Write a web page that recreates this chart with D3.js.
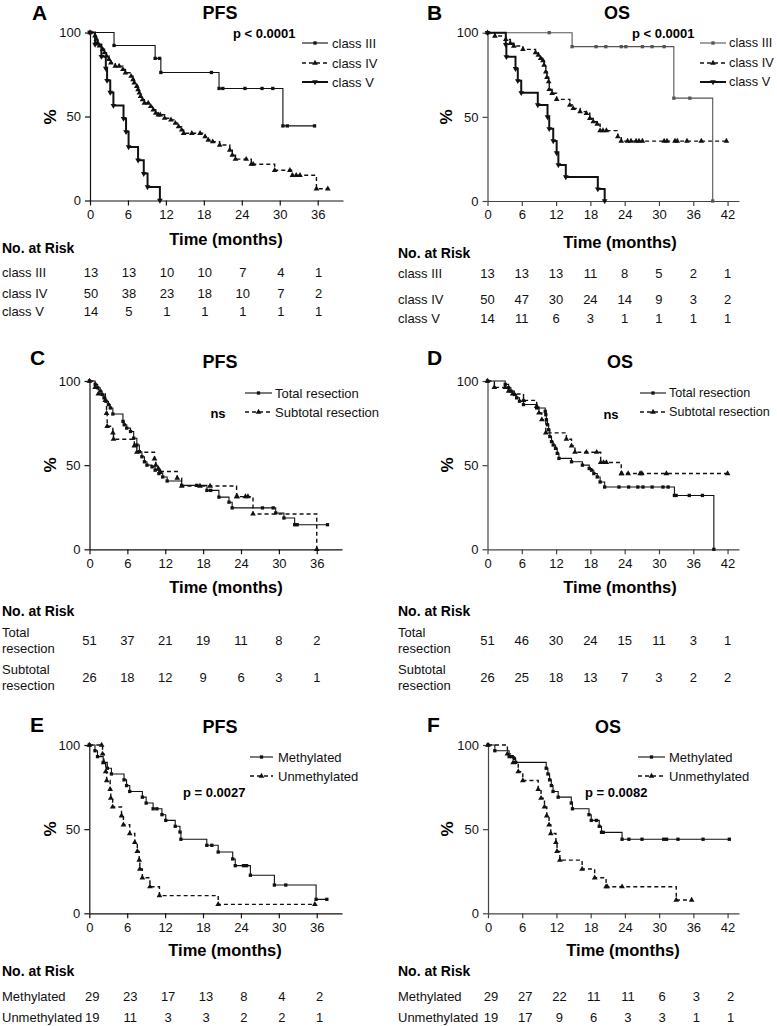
<!DOCTYPE html>
<html><head><meta charset="utf-8">
<script src="https://cdn.jsdelivr.net/npm/d3@7"></script>
<style>
body{margin:0;background:#fff;}
svg{font-family:"Liberation Sans",Arial,Helvetica,sans-serif;}
</style></head>
<body>
<script>
// ---------- DATA (time in months, survival in %) ----------
const ticksPFS = [0,6,12,18,24,30,36];
const ticksOS  = [0,6,12,18,24,30,36,42];

// Panel A – PFS by class
const A_classIII = [[0,100],[3.8,92.3],[10.3,84.6],[11.0,84.6],[11.2,76.2],[19.2,76.2],[20.4,66.7],[21.0,66.7],[24.5,66.7],[27.2,66.7],[28.9,66.7],[30.5,44.4],[31.2,44.4],[35.5,44.4]];
const A_classIV = [[0,100],[0.8,98],[1.0,96],[1.2,94],[1.5,92],[2.0,90],[2.3,88],[2.6,86],[3.0,84],[3.3,82],[4.0,80],[4.6,80],[5.2,78],[5.6,76],[6.5,74],[6.8,72],[7.0,70],[7.4,68],[7.6,66],[7.8,64],[8.0,62],[8.3,60],[8.6,58],[9.2,58],[9.6,56],[10.0,54],[10.4,52],[10.8,51],[11.1,51],[11.8,49],[12.8,48],[13.5,46],[14.0,44],[14.5,42],[14.8,40],[16.1,40],[17.4,40],[18.2,38],[18.7,36],[19.4,35],[20.5,33],[22.1,30],[22.5,27],[23.0,24.6],[24.7,24.6],[25.5,21.6],[25.8,21.6],[29.2,18],[31.6,18],[32.0,15],[32.6,15],[33.2,15],[35.8,7],[37.6,7]];
const A_classV = [[0,100],[0.8,92.9],[1.8,85.7],[2.5,78.6],[2.7,71.4],[3.2,64.3],[3.7,56.5],[5.3,48.8],[5.7,40.9],[6.1,31.9],[7.6,24],[8.5,16],[9.1,8.1],[11.05,0]];
const A_risk_III = [13,13,10,10,7,4,1];
const A_risk_IV  = [50,38,23,18,10,7,2];
const A_risk_V   = [14,5,1,1,1,1,1];

// Panel B – OS by class
const B_classIII = [[0,100],[10.8,100],[14.8,91.7],[19.0,91.7],[20.7,91.7],[23.4,91.7],[24.2,91.7],[27.1,91.7],[28.8,91.7],[30.9,91.7],[32.6,61.1],[35.4,61.1],[39.4,0]];
const B_classIV = [[0,100],[1.3,98],[3.2,96],[4.0,93.7],[4.6,92.1],[6.2,90.1],[8.4,88.1],[8.9,86.7],[9.3,84.8],[9.7,83.4],[9.9,80.8],[10.2,76.8],[10.4,73.5],[10.7,70.9],[10.8,66.3],[11.3,64],[12.1,60.4],[14.4,57],[15.0,55],[16.2,53.1],[17.3,52.1],[17.9,49.1],[18.5,47.1],[19.2,45.7],[19.7,41.8],[20.2,41.8],[20.8,41.8],[22.8,38.2],[23.4,35.6],[24.5,35.6],[25.1,35.6],[26.0,35.6],[26.5,35.6],[27.1,35.6],[30.9,35.6],[31.4,35.6],[32.8,35.6],[33.2,35.6],[34.9,35.6],[37.4,35.6],[41.8,35.6]];
const B_classV = [[0,100],[3.2,92.9],[3.3,85.7],[4.9,78.6],[5.3,71.4],[5.9,64.3],[8.8,57.1],[10.5,50],[10.8,42.9],[11.5,35.7],[12.1,28.6],[12.4,21.4],[13.7,14.3],[19.3,7.1],[20.5,0]];
const B_risk_III = [13,13,13,11,8,5,2,1];
const B_risk_IV  = [50,47,30,24,14,9,3,2];
const B_risk_V   = [14,11,6,3,1,1,1,1];

// Panel C – PFS by resection
const C_total = [[0,100],[0.9,98],[1.3,96],[1.7,94],[2.0,92],[2.3,90],[2.6,88],[3.0,86],[3.3,84],[3.7,80.4],[5.3,76],[5.5,74],[5.9,72],[6.5,70],[7.0,66],[7.5,62],[7.9,58],[8.3,55],[8.7,52],[9.1,50],[9.9,49],[10.4,47],[11.0,45],[11.6,43],[12.3,40.6],[14.6,38],[17.0,38],[18.6,35],[19.2,35],[20.5,31],[22.1,28],[22.6,24.6],[27.4,24.6],[29.1,24.6],[29.5,21.6],[30.8,18.6],[32.5,14.6],[32.9,14.6],[37.7,14.6]];
const C_subtotal = [[0,100],[0.9,96.2],[1.4,92.3],[2.5,88.5],[2.7,80.8],[2.8,73.1],[3.7,69.2],[3.8,65.4],[7.1,61.5],[7.5,57.7],[10.3,53.8],[10.5,50],[10.9,48],[11.2,46.2],[13.9,42.3],[14.6,37.6],[17.5,37.6],[19.1,37.6],[23.3,31.3],[23.4,31.3],[24.7,31.3],[25.1,31.3],[25.9,21],[36.0,0]];
const C_risk_total    = [51,37,21,19,11,8,2];
const C_risk_subtotal = [26,18,12,9,6,3,1];

// Panel D – OS by resection
const D_total = [[0,100],[3.1,98],[3.7,96],[4.1,94],[4.7,92],[5.1,90],[5.6,88],[6.3,86],[8.6,84],[10.1,82],[10.2,80],[10.3,77],[10.5,74],[10.7,71],[10.9,67],[11.2,64],[11.5,62],[11.9,60],[12.2,57],[12.5,54],[14.7,52],[16.6,50],[17.8,48],[18.2,47],[18.6,45],[19.2,43],[19.7,40],[20.5,37],[23.0,37],[24.7,37],[26.3,37],[27.2,37],[28.8,37],[30.7,37],[31.6,37],[32.7,32],[33.0,32],[35.3,32],[37.6,32],[39.6,0]];
const D_subtotal = [[0,100],[1.2,96.2],[3.1,96.2],[3.7,94],[4.4,92.3],[6.3,88.5],[8.6,85],[9.0,81],[9.5,77],[10.2,69.2],[13.8,65.4],[14.7,61.5],[15.3,57.7],[17.3,57.7],[19.1,57.7],[19.8,51.6],[20.3,51.6],[20.8,51.6],[23.4,45],[23.5,45],[24.6,45],[26.7,45],[27.0,45],[31.3,45],[42.0,45]];
const D_risk_total    = [51,46,30,24,15,11,3,1];
const D_risk_subtotal = [26,25,18,13,7,3,2,2];

// Panel E – PFS by methylation
const E_meth = [[0,100],[0.9,96.6],[1.3,93.1],[2.2,89.7],[2.85,86.2],[3.5,82.8],[5.5,79.3],[5.9,75.9],[6.4,72.4],[8.4,69],[9.0,65.5],[10.1,62.1],[10.7,62.1],[11.5,58.6],[12.1,55.2],[13.6,51.7],[14.35,48.3],[14.5,44],[18.6,40.4],[19.4,40.4],[20.4,36.4],[22.7,32.3],[23.1,28.3],[24.4,28.3],[24.9,28.3],[25.5,22.6],[29.3,16.8],[31.1,16.8],[35.9,8.3],[37.6,8.3]];
const E_unmeth = [[0,100],[1.95,100],[2.1,94.7],[2.3,89.5],[2.6,84.2],[2.75,78.9],[3.3,73.7],[3.4,68.4],[3.7,63.2],[5.1,57.9],[5.4,52.6],[6.4,47.4],[7.2,42.1],[7.6,36.8],[7.9,31.6],[8.0,26.3],[8.4,21.1],[9.6,15.8],[11.1,10.5],[20.4,5.3],[35.7,5.3]];
const E_risk_meth   = [29,23,17,13,8,4,2];
const E_risk_unmeth = [19,11,3,3,2,2,1];

// Panel F – OS by methylation
const F_meth = [[0,100],[1.2,96.6],[3.7,93.1],[4.1,93.1],[4.6,92],[4.85,89.7],[10.2,86.2],[10.5,82.8],[10.8,79.3],[11.1,75.9],[11.4,72.4],[12.3,69],[14.6,65.5],[14.8,62.1],[17.7,58.6],[18.1,55.2],[19.0,55.2],[19.5,51.7],[19.9,48.1],[20.2,48.1],[23.5,44],[24.7,44],[27.0,44],[30.8,44],[31.3,44],[33.3,44],[37.7,44],[42.3,44]];
const F_unmeth = [[0,100],[3.4,94.7],[4.4,89.5],[5.3,84.2],[6.1,78.9],[8.8,73.7],[9.3,68.4],[9.9,63.2],[10.3,57.9],[10.7,52.6],[11.0,47.4],[11.9,42.1],[12.1,36.8],[12.6,31.6],[16.5,26.3],[18.7,21.1],[20.7,15.8],[20.9,15.8],[23.5,15.8],[33.0,7.9],[35.7,7.9]];
const F_risk_meth   = [29,27,22,11,11,6,3,2];
const F_risk_unmeth = [19,17,9,6,3,3,1,1];

// ---------- DRAWING ----------
const svg = d3.select("body").append("svg").attr("width",777).attr("height",1026);

const SOLID = {dash:null, width:1.1, color:"#111", marker:"square"};
const DASH  = {dash:"4,3", width:1.4, color:"#111", marker:"triangle"};
const THICK = {dash:null, width:2, color:"#111", marker:"down"};

function markerPath(kind){
  if(kind==="square") return d3.symbol().type(d3.symbolSquare).size(11)();
  return d3.symbol().type(d3.symbolTriangle).size(14)();
}

function panel(c){
  const g = svg.append("g");
  const x = d3.scaleLinear().domain([0,c.xmax]).range(c.xr);
  const y = d3.scaleLinear().domain([0,100]).range(c.yr);
  const axisColor = c.axisColor || "#111";
  const legendSize = c.legendSize || 13;
  const dx = c.valueDx || 0;

  // axes
  const xa = g.append("g").attr("transform",`translate(0,${c.yr[0]})`)
    .call(d3.axisBottom(x).tickValues(c.ticks).tickSize(5).tickSizeOuter(0).tickPadding(4));
  const ya = g.append("g").attr("transform",`translate(${c.xr[0]},0)`)
    .call(d3.axisLeft(y).tickValues([0,50,100]).tickSize(5).tickSizeOuter(0).tickPadding(4));
  [xa,ya].forEach(a=>{
    a.selectAll("path,line").attr("stroke",axisColor).attr("stroke-width",1.2);
    a.selectAll("text").attr("font-size",13).attr("fill","#111")
      .attr("font-family","'Liberation Sans',Arial,sans-serif");
  });

  // curves
  const line = d3.line().x(d=>x(d[0])).y(d=>y(d[1])).curve(d3.curveStepAfter);
  c.series.forEach(s=>{
    g.append("path").datum(s.data).attr("d",line).attr("fill","none")
      .attr("stroke",s.style.color).attr("stroke-width",s.style.width)
      .attr("stroke-dasharray",s.style.dash);
    g.selectAll(null).data(s.data).join("path")
      .attr("d",markerPath(s.style.marker))
      .attr("transform",d=>`translate(${x(d[0])},${y(d[1])})${s.style.marker==="down"?" rotate(180)":""}`)
      .attr("fill",s.style.color);
  });

  // letter & title
  g.append("text").attr("x",c.letter[1]).attr("y",c.letter[2]).attr("dy","0.35em")
    .attr("font-size",21).attr("font-weight","bold").text(c.letter[0]);
  g.append("text").attr("x",c.title[1]).attr("y",c.title[2]).attr("dy","0.35em")
    .attr("text-anchor","middle").attr("font-size",18).attr("font-weight","bold").text(c.title[0]);
  // stat
  g.append("text").attr("x",c.stat[1]).attr("y",c.stat[2]).attr("dy","0.35em")
    .attr("text-anchor",c.stat[3]||"start").attr("font-size",13).attr("font-weight","bold").text(c.stat[0]);
  // % label
  g.append("text").attr("transform",`translate(${c.pct[0]},${c.pct[1]}) rotate(-90)`)
    .attr("dy","0.35em").attr("text-anchor","middle").attr("font-size",17).attr("font-weight","bold").text("%");
  // legend
  c.series.forEach((s,i)=>{
    const ly = c.legend.rows[i];
    g.append("line").attr("x1",c.legend.x1).attr("x2",c.legend.x2).attr("y1",ly).attr("y2",ly)
      .attr("stroke",s.style.color).attr("stroke-width",s.style.width).attr("stroke-dasharray",s.style.dash);
    g.append("path").attr("d",markerPath(s.style.marker))
      .attr("transform",`translate(${(c.legend.x1+c.legend.x2)/2},${ly})${s.style.marker==="down"?" rotate(180)":""}`)
      .attr("fill",s.style.color);
    g.append("text").attr("x",c.legend.tx).attr("y",ly).attr("dy","0.35em")
      .attr("font-size",legendSize).attr("fill","#111").text(s.name);
  });
  // time label
  g.append("text").attr("x",c.time[0]).attr("y",c.time[1]).attr("dy","0.35em")
    .attr("text-anchor","middle").attr("font-size",16.5).attr("font-weight","bold").text("Time (months)");
  // risk table
  g.append("text").attr("x",c.labelX).attr("y",c.noRisk).attr("dy","0.35em")
    .attr("font-size",14).attr("font-weight","bold").text("No. at Risk");
  c.risk.forEach(r=>{
    r.label.forEach((t,j)=>{
      g.append("text").attr("x",c.labelX).attr("y",r.labelY[j]).attr("dy","0.35em")
        .attr("font-size",13).attr("fill","#111").text(t);
    });
    g.selectAll(null).data(r.values).join("text")
      .attr("x",(d,i)=>x(c.ticks[i])+dx).attr("y",r.y).attr("dy","0.35em")
      .attr("text-anchor","middle").attr("font-size",13).attr("fill","#111").text(d=>d);
  });
}

const L = {xr:[90,343], xmax:40, ticks:ticksPFS};
const R = {xr:[487.5,739], xmax:44, ticks:ticksOS};

panel({...L, yr:[200.5,32.5], letter:["A",32,13], title:["PFS",220,13], stat:["p < 0.0001",233,33],
  pct:[50,117], legend:{x1:302,x2:328,tx:332,rows:[43,63,82]},
  series:[{name:"class III",data:A_classIII,style:SOLID},{name:"class IV",data:A_classIV,style:DASH},{name:"class V",data:A_classV,style:THICK}],
  time:[226,239], labelX:2, noRisk:248, valueDx:1,
  risk:[{label:["class III"],labelY:[272],y:272,values:A_risk_III},
        {label:["class IV"],labelY:[293],y:293,values:A_risk_IV},
        {label:["class V"],labelY:[311],y:311,values:A_risk_V}]});

panel({...R, yr:[201,32.7], axisColor:"#444", letter:["B",427,13], title:["OS",617,13], stat:["p < 0.0001",632,33],
  pct:[446,117], legend:{x1:700,x2:726,tx:729,rows:[43,63,82]}, legendSize:12.8,
  series:[{name:"class III",data:B_classIII,style:{...SOLID,color:"#555"}},{name:"class IV",data:B_classIV,style:DASH},{name:"class V",data:B_classV,style:THICK}],
  time:[620,242], labelX:398, noRisk:253,
  risk:[{label:["class III"],labelY:[273],y:273,values:B_risk_III},
        {label:["class IV"],labelY:[299],y:299,values:B_risk_IV},
        {label:["class V"],labelY:[318],y:318,values:B_risk_V}]});

panel({...L, xr:[89.5,342], yr:[549.3,381], letter:["C",30,358], title:["PFS",220,362], stat:["ns",218,413,"middle"],
  pct:[50,465], legend:{x1:245,x2:272,tx:275,rows:[393,412]},
  series:[{name:"Total resection",data:C_total,style:SOLID},{name:"Subtotal resection",data:C_subtotal,style:DASH}],
  time:[226,587], labelX:2, noRisk:611,
  risk:[{label:["Total","resection"],labelY:[632,648],y:640,values:C_risk_total},
        {label:["Subtotal","resection"],labelY:[669,685],y:677,values:C_risk_subtotal}]});

panel({...R, yr:[549.3,381], axisColor:"#444", letter:["D",427,358], title:["OS",620,362], stat:["ns",611,414,"middle"],
  pct:[447,465], legend:{x1:640,x2:666,tx:669,rows:[393,412]}, legendSize:12.6,
  series:[{name:"Total resection",data:D_total,style:SOLID},{name:"Subtotal resection",data:D_subtotal,style:DASH}],
  time:[620,587], labelX:398, noRisk:611,
  risk:[{label:["Total","resection"],labelY:[632,648],y:640,values:D_risk_total},
        {label:["Subtotal","resection"],labelY:[669,685],y:677,values:D_risk_subtotal}]});

panel({...L, xr:[89.3,342], yr:[913.3,745], letter:["E",30,725], title:["PFS",220,727], stat:["p = 0.0027",183,792],
  pct:[50,829], legend:{x1:250,x2:273,tx:278,rows:[757,776]},
  series:[{name:"Methylated",data:E_meth,style:SOLID},{name:"Unmethylated",data:E_unmeth,style:DASH}],
  time:[225,950], labelX:2, noRisk:971, valueDx:3,
  risk:[{label:["Methylated"],labelY:[996],y:996,values:E_risk_meth},
        {label:["Unmethylated"],labelY:[1017],y:1017,values:E_risk_unmeth}]});

panel({...R, xr:[488,739], yr:[913.3,745], axisColor:"#444", letter:["F",427,725], title:["OS",608,727], stat:["p = 0.0082",585,792],
  pct:[447,829], legend:{x1:638,x2:665,tx:669,rows:[757,776]},
  series:[{name:"Methylated",data:F_meth,style:SOLID},{name:"Unmethylated",data:F_unmeth,style:DASH}],
  time:[623,950], labelX:398, noRisk:971, valueDx:3,
  risk:[{label:["Methylated"],labelY:[996],y:996,values:F_risk_meth},
        {label:["Unmethylated"],labelY:[1017],y:1017,values:F_risk_unmeth}]});
</script>
</body></html>
